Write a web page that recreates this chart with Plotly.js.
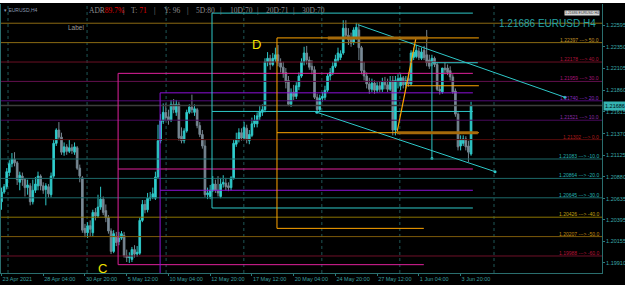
<!DOCTYPE html>
<html><head><meta charset="utf-8">
<script src="https://cdn.plot.ly/plotly-3.0.1.min.js"></script>
<style>html,body{margin:0;padding:0;background:#fff;overflow:hidden}#chart{position:absolute;left:0;top:3px;width:625px;height:282px}</style>
</head><body><div id="chart"></div>
<script>
// ---- candle data (EURUSD H4), one entry per bar ----
const open = [
1.2060,1.2071,1.2077,1.2093,1.2103,1.2108,1.2104,1.2082,1.2089,1.2085,
1.2076,1.2078,1.2060,1.2073,1.2078,1.2089,1.2078,1.2074,1.2077,1.2068,
1.2089,1.2126,1.2141,1.2133,1.2116,1.2122,1.2117,1.2121,1.2116,1.2121,
1.2098,1.2087,1.2030,1.2025,1.2033,1.2025,1.2048,1.2044,1.2054,1.2063,
1.2050,1.2042,1.2027,1.2004,1.2021,1.2015,1.2019,1.2022,1.1999,1.1997,
1.1995,1.2006,1.2001,1.2002,1.2039,1.2057,1.2051,1.2064,1.2065,1.2064,
1.2088,1.2129,1.2151,1.2161,1.2156,1.2152,1.2170,1.2161,1.2170,1.2134,
1.2129,1.2140,1.2161,1.2167,1.2161,1.2164,1.2146,1.2136,1.2123,1.2068,
1.2066,1.2073,1.2080,1.2073,1.2066,1.2080,1.2081,1.2078,1.2076,1.2087,
1.2125,1.2130,1.2138,1.2132,1.2143,1.2129,1.2135,1.2148,1.2148,1.2156,
1.2161,1.2164,1.2218,1.2222,1.2215,1.2221,1.2226,1.2217,1.2212,1.2206,
1.2197,1.2170,1.2184,1.2179,1.2190,1.2202,1.2218,1.2228,1.2220,1.2213,
1.2209,1.2178,1.2164,1.2177,1.2178,1.2186,1.2202,1.2206,1.2213,1.2220,
1.2223,1.2228,1.2256,1.2248,1.2245,1.2240,1.2245,1.2254,1.2234,1.2208,
1.2202,1.2193,1.2187,1.2194,1.2186,1.2191,1.2187,1.2195,1.2192,1.2187,
1.2197,1.2141,1.2196,1.2191,1.2200,1.2192,1.2199,1.2193,1.2223,1.2224,
1.2230,1.2222,1.2231,1.2226,1.2220,1.2218,1.2222,1.2215,1.2187,1.2184,
1.2211,1.2211,1.2208,1.2201,1.2185,1.2159,1.2123,1.2126,1.2131,1.2123,
1.2114];
const high = [
1.2076,1.2080,1.2098,1.2107,1.2115,1.2116,1.2106,1.2094,1.2093,1.2087,
1.2085,1.2081,1.2085,1.2088,1.2094,1.2091,1.2082,1.2081,1.2080,1.2093,
1.2130,1.2143,1.2150,1.2138,1.2127,1.2125,1.2130,1.2125,1.2127,1.2123,
1.2102,1.2089,1.2035,1.2037,1.2039,1.2051,1.2053,1.2068,1.2077,1.2066,
1.2057,1.2045,1.2030,1.2028,1.2026,1.2026,1.2027,1.2026,1.2006,1.2003,
1.2009,1.2011,1.2010,1.2042,1.2062,1.2062,1.2070,1.2071,1.2076,1.2094,
1.2147,1.2159,1.2171,1.2171,1.2164,1.2175,1.2176,1.2175,1.2173,1.2144,
1.2143,1.2164,1.2170,1.2181,1.2170,1.2166,1.2150,1.2141,1.2130,1.2076,
1.2079,1.2089,1.2085,1.2089,1.2087,1.2090,1.2087,1.2082,1.2089,1.2130,
1.2138,1.2143,1.2143,1.2150,1.2147,1.2141,1.2155,1.2158,1.2161,1.2168,
1.2170,1.2222,1.2229,1.2226,1.2228,1.2234,1.2237,1.2222,1.2218,1.2211,
1.2202,1.2188,1.2192,1.2195,1.2206,1.2222,1.2235,1.2236,1.2224,1.2220,
1.2213,1.2182,1.2181,1.2184,1.2191,1.2205,1.2211,1.2218,1.2226,1.2234,
1.2231,1.2265,1.2265,1.2256,1.2251,1.2257,1.2262,1.2260,1.2236,1.2218,
1.2206,1.2200,1.2199,1.2197,1.2195,1.2196,1.2200,1.2201,1.2199,1.2202,
1.2202,1.2202,1.2204,1.2204,1.2202,1.2202,1.2206,1.2231,1.2234,1.2237,
1.2234,1.2234,1.2236,1.2254,1.2226,1.2226,1.2224,1.2218,1.2192,1.2211,
1.2217,1.2215,1.2213,1.2204,1.2188,1.2161,1.2135,1.2135,1.2134,1.2129,
1.2173];
const low = [
1.2051,1.2069,1.2074,1.2089,1.2099,1.2100,1.2079,1.2073,1.2078,1.2066,
1.2068,1.2056,1.2057,1.2070,1.2073,1.2073,1.2069,1.2056,1.2065,1.2065,
1.2087,1.2123,1.2130,1.2113,1.2112,1.2113,1.2115,1.2114,1.2113,1.2096,
1.2082,1.2025,1.2020,1.2019,1.2021,1.2021,1.2039,1.2042,1.2051,1.2045,
1.2037,1.2024,1.2001,1.2002,1.2010,1.2011,1.2017,1.1997,1.1992,1.1991,
1.1992,1.1997,1.1998,1.2000,1.2037,1.2047,1.2048,1.2061,1.2063,1.2062,
1.2086,1.2126,1.2148,1.2151,1.2147,1.2150,1.2160,1.2157,1.2129,1.2126,
1.2126,1.2138,1.2159,1.2160,1.2157,1.2143,1.2133,1.2120,1.2065,1.2063,
1.2063,1.2071,1.2070,1.2066,1.2064,1.2076,1.2073,1.2072,1.2073,1.2085,
1.2122,1.2127,1.2129,1.2130,1.2126,1.2125,1.2133,1.2144,1.2144,1.2152,
1.2157,1.2161,1.2213,1.2209,1.2213,1.2218,1.2213,1.2206,1.2200,1.2188,
1.2168,1.2167,1.2175,1.2176,1.2186,1.2200,1.2214,1.2215,1.2209,1.2204,
1.2176,1.2160,1.2161,1.2173,1.2175,1.2184,1.2197,1.2203,1.2211,1.2218,
1.2220,1.2226,1.2245,1.2237,1.2235,1.2237,1.2243,1.2220,1.2204,1.2197,
1.2188,1.2182,1.2184,1.2182,1.2183,1.2184,1.2184,1.2187,1.2184,1.2185,
1.2135,1.2135,1.2188,1.2186,1.2188,1.2188,1.2190,1.2191,1.2220,1.2222,
1.2220,1.2220,1.2220,1.2213,1.2210,1.2213,1.2212,1.2185,1.2181,1.2182,
1.2204,1.2203,1.2197,1.2182,1.2156,1.2118,1.2118,1.2123,1.2118,1.2105,
1.2112];
const close = [
1.2071,1.2077,1.2094,1.2103,1.2108,1.2104,1.2085,1.2090,1.2085,1.2076,
1.2079,1.2060,1.2073,1.2080,1.2089,1.2078,1.2073,1.2078,1.2069,1.2089,
1.2126,1.2141,1.2133,1.2116,1.2122,1.2117,1.2121,1.2118,1.2122,1.2098,
1.2089,1.2028,1.2025,1.2033,1.2029,1.2048,1.2044,1.2054,1.2063,1.2048,
1.2042,1.2027,1.2004,1.2024,1.2014,1.2019,1.2024,1.1999,1.1997,1.1998,
1.2006,1.2001,1.2003,1.2039,1.2057,1.2051,1.2064,1.2065,1.2069,1.2088,
1.2129,1.2152,1.2161,1.2155,1.2152,1.2170,1.2164,1.2170,1.2132,1.2129,
1.2140,1.2161,1.2167,1.2164,1.2165,1.2146,1.2136,1.2123,1.2068,1.2070,
1.2073,1.2080,1.2073,1.2070,1.2080,1.2082,1.2077,1.2076,1.2087,1.2126,
1.2130,1.2138,1.2132,1.2144,1.2130,1.2136,1.2148,1.2152,1.2157,1.2162,
1.2164,1.2218,1.2222,1.2215,1.2222,1.2226,1.2217,1.2212,1.2205,1.2195,
1.2170,1.2183,1.2179,1.2191,1.2202,1.2218,1.2228,1.2220,1.2212,1.2209,
1.2178,1.2164,1.2177,1.2179,1.2186,1.2202,1.2206,1.2213,1.2221,1.2228,
1.2227,1.2256,1.2248,1.2243,1.2239,1.2254,1.2257,1.2234,1.2208,1.2202,
1.2193,1.2187,1.2194,1.2186,1.2191,1.2187,1.2195,1.2192,1.2187,1.2196,
1.2141,1.2197,1.2199,1.2200,1.2192,1.2197,1.2193,1.2228,1.2229,1.2231,
1.2223,1.2229,1.2223,1.2217,1.2213,1.2222,1.2215,1.2187,1.2185,1.2211,
1.2209,1.2206,1.2201,1.2184,1.2159,1.2122,1.2130,1.2131,1.2122,1.2116,
1.21686];

// ---- axis labels ----
const timeTickBars = [0,16,32,48,64,80,96,112,128,144,160,176];
const timeTickLabels = ['23 Apr 2021','28 Apr 04:00','30 Apr 20:00','5 May 12:00','10 May 04:00','12 May 20:00','17 May 12:00','20 May 04:00','24 May 20:00','27 May 12:00','1 Jun 04:00','3 Jun 20:00'];
const priceTicks = [1.22595,1.22350,1.22105,1.21860,1.21615,1.21370,1.21125,1.20880,1.20635,1.20395,1.20155,1.19910];
const gridBars = [2.5,32.8,63.1,92.9,122.8,152.7,188.8];
const lastPrice = 1.21686;

// ---- percentage levels ----
const levelPrices = [1.22616,1.22397,1.22178,1.21959,1.21740,1.21521,1.21302,1.21083,1.20864,1.20645,1.20426,1.20207,1.19988,1.19769];
const levelPcts = [60,50,40,30,20,10,0,-10,-20,-30,-40,-50,-60,-70];

// ---- drawn objects: [bar, price] anchors ----
const magentaEdge = [44.7, 1.1989, 1.2205];
const magentaRays = [[44.7,180.7,1.2205],[44.7,180.7,1.2097],[44.7,161.9,1.1989]];
const purpleEdge = [60.8, 1.1970, 1.2183];
const purpleRays = [[60.8,180.7,1.2183],[60.8,180.7,1.2073]];
const cyanEdge = [80.7, 1.2053, 1.2273];
const cyanRays = [[80.7,180.7,1.2273],[80.7,180.7,1.2162],[80.7,180.7,1.2053]];
const cyanEdge2 = [165.0, 1.2109, 1.2217];
const cyanRays2 = [[165.0,182.6,1.2217]];
const channelTop = [[136.6,1.2260],[216.0,1.2178]];
const channelBottom = [[120.9,1.2161],[189.2,1.2094]];
const orangeEdge = [105.6, 1.2030, 1.2245];
const orangeRays = [[105.6,183.0,1.2245],[105.6,183.0,1.2138],[105.6,161.9,1.2030],[155.4,183.0,1.2191]];
const orangeLeg = [[151.6,1.2138],[158.9,1.2245]];
const orangeBands = [[125.1,163.5,1.2245],[151.6,182.6,1.2138]];
const waveLabels = [['C',38.9,1.19852],['D',97.9,1.2238]];

// ---- styles ----
const levelLineColors = ['#8b6a12','#8b6a12','#6a1024','#62104e','#520a7a','#4a0a5e','#550c0c','#1d6a6a','#1d6a6a','#1d6a6a','#8b7400','#7d5a0a','#6e1028','#8a0a7a'];
const levelTextColors = ['#b8901c','#c09428','#b0143c','#a8147a','#8a2ac0','#8a2aa8','#b01a1a','#24b4b4','#24b4b4','#24b4b4','#c0a010','#c08a10','#b81438','#c01898'];
const MAG='#e0209c', PUR='#8c10d8', CYA='#2ec8c8', ORA='#ffa500', ORA2='#a66a0a';
const px2x = px => (px-1)/601, py2y = py => (273-py)/269;

const shapes = [];
const annotations = [];
gridBars.forEach(b => shapes.push({type:'line',xref:'x',yref:'paper',x0:b,x1:b,y0:0,y1:1,layer:'below',line:{color:'#1e5656',width:1,dash:'dot'}}));
levelPrices.forEach((p,k) => {
  shapes.push({type:'line',xref:'paper',yref:'y',x0:0,x1:1,y0:p,y1:p,line:{color:levelLineColors[k],width:1}});
  if (k>0) annotations.push({xref:'paper',yref:'y',x:1,y:p,xanchor:'right',yanchor:'bottom',xshift:-1,yshift:-2,showarrow:false,
    text:p.toFixed(5)+' ---> '+levelPcts[k].toFixed(1),font:{family:'Liberation Sans',size:5,color:levelTextColors[k]}});
});
shapes.push({type:'line',xref:'paper',yref:'y',x0:0,x1:1,y0:lastPrice,y1:lastPrice,line:{color:'#3c3c3c',width:1.5}});
function vline(e,c,w){shapes.push({type:'line',xref:'x',yref:'y',x0:e[0],x1:e[0],y0:e[1],y1:e[2],line:{color:c,width:w||1}});}
function hrays(r,c,w){r.forEach(a=>shapes.push({type:'line',xref:'x',yref:'y',x0:a[0],x1:a[1],y0:a[2],y1:a[2],line:{color:c,width:w||1}}));}
function seg(s,c,w){shapes.push({type:'line',xref:'x',yref:'y',x0:s[0][0],y0:s[0][1],x1:s[1][0],y1:s[1][1],line:{color:c,width:w||1}});}
vline(magentaEdge,MAG); hrays(magentaRays,MAG);
vline(purpleEdge,PUR); hrays(purpleRays,PUR);
vline(cyanEdge,CYA); hrays(cyanRays,CYA);
vline(cyanEdge2,CYA); hrays(cyanRays2,CYA);
seg(channelTop,CYA); seg(channelBottom,CYA);
vline(orangeEdge,ORA); hrays(orangeRays,ORA); seg(orangeLeg,ORA,1.2);
hrays(orangeBands,ORA2,3);

waveLabels.forEach(w => annotations.push({xref:'x',yref:'y',x:w[1],y:w[2],text:w[0],showarrow:false,xanchor:'center',yanchor:'middle',font:{family:'Liberation Sans',size:13,color:'#f2e200'}}));

const RED='#e00000', GRY='#8c8c8c';
const header = [['ADR<span style="color:'+RED+'">89.7%</span>',87],['|',121],['T: <span style="color:'+RED+'">71</span>',129],['|',152],['Y: 96',162],['|',185],['5D:80',194],['|',218],['10D:70',228],['|',255],['20D:71',264],['|',291],['30D:70',300]];
header.forEach(h => annotations.push({xref:'paper',yref:'paper',x:px2x(h[1]),y:py2y(11),xanchor:'left',yanchor:'middle',showarrow:false,text:h[0],font:{family:'Liberation Serif',size:7.5,color:GRY}}));
annotations.push({xref:'paper',yref:'paper',x:px2x(2),y:py2y(10),xanchor:'left',yanchor:'middle',showarrow:false,text:'\u25BE EURUSD,H4',font:{family:'Liberation Sans',size:5,color:'#8a9ab0'}});
annotations.push({xref:'paper',yref:'paper',x:px2x(66),y:py2y(27),xanchor:'left',yanchor:'middle',showarrow:false,text:'Label',font:{family:'Liberation Sans',size:6.5,color:'#9a9a9a'}});
annotations.push({xref:'paper',yref:'paper',x:px2x(598),y:py2y(23),xanchor:'right',yanchor:'middle',showarrow:false,text:'1.21686 EURUSD H4',font:{family:'Liberation Sans',size:10,color:'#26a3a3'}});
annotations.push({xref:'paper',yref:'paper',x:px2x(600),y:py2y(13),xanchor:'right',yanchor:'middle',showarrow:false,text:'1.21686 EURUSD H4',bgcolor:'#d8d8d8',borderpad:0,font:{family:'Liberation Sans',size:3.5,color:'#333'}});
annotations.push({xref:'paper',yref:'y',x:1,y:lastPrice,xanchor:'left',yanchor:'middle',xshift:1,showarrow:false,text:lastPrice.toFixed(5),bgcolor:'#35b3b3',borderpad:1,font:{family:'Liberation Sans',size:5.5,color:'#001010'}});

const barIndex = close.map((_, i) => i);
const candles = {type:'candlestick',x:barIndex,open,high,low,close,hoverinfo:'skip',whiskerwidth:0,
  increasing:{line:{color:'#2fc6c6',width:1},fillcolor:'#2fd4d4'},
  decreasing:{line:{color:'#74848f',width:1},fillcolor:'#7d8d9b'}};
const dots = {type:'scatter',mode:'markers',hoverinfo:'skip',
  x:[cyanEdge2[0],channelTop[1][0],channelBottom[1][0],channelBottom[0][0]],
  y:[cyanEdge2[1],channelTop[1][1],channelBottom[1][1],channelBottom[0][1]],
  marker:{size:3,color:CYA}};

const layout = {
  width:625,height:282,margin:{l:1,r:23,t:1,b:12},boxgap:0.1,
  paper_bgcolor:'#000',plot_bgcolor:'#000',showlegend:false,
  xaxis:{range:[-0.19,230.2],tickmode:'array',tickvals:timeTickBars,ticktext:timeTickLabels,ticks:'outside',ticklen:2,tickcolor:'#2a7a7a',
    tickangle:0,ticklabelposition:'outside right',tickfont:{family:'Liberation Sans',size:5.5,color:'#3a9e9e'},showgrid:false,zeroline:false,
    showline:true,linecolor:'#2a6e6e',linewidth:1,rangeslider:{visible:false},fixedrange:true},
  yaxis:{side:'right',range:[1.19796,1.22833],tickmode:'array',tickvals:priceTicks,ticktext:priceTicks.map(v=>v.toFixed(5)),ticks:'outside',ticklen:2,
    tickcolor:'#2a7a7a',tickfont:{family:'Liberation Sans',size:5.5,color:'#3aa8a8'},showgrid:false,zeroline:false,showline:true,mirror:true,
    linecolor:'#2a6e6e',linewidth:1,fixedrange:true},
  shapes,annotations
};
Plotly.newPlot('chart',[candles,dots],layout,{staticPlot:true,displayModeBar:false});
</script></body></html>
